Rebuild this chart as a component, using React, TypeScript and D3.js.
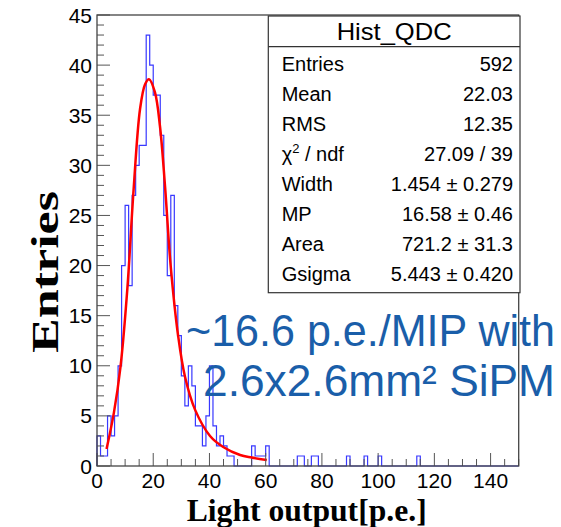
import React from "react";
import * as d3 from "d3";

// ---- data ----
const binWidth = 1.25;
const counts: number[] = [
  3, 1, 1, 5, 3, 5, 10, 20, 26, 18,
  27, 30, 32, 32, 43, 40, 37, 37, 33, 25,
  19, 27, 16, 13, 9, 6, 10, 8, 4, 4,
  2, 5, 10, 4, 2, 3, 2, 1, 1, 0,
  0, 0, 0, 0, 2, 1, 1, 1, 2, 0,
  0, 0, 0, 0, 0, 0, 0, 1, 1, 0,
  0, 1, 1, 0, 0, 0, 0, 0, 0, 0,
  0, 1, 0, 0, 0, 0, 1, 0, 0, 0,
  1, 0, 0, 0, 0, 0, 0, 0, 0, 0,
  0, 1, 0, 0, 0, 0, 0, 0, 0, 0,
  0, 0, 0, 0, 0, 0, 0, 0, 0, 0,
  0, 0, 0, 0, 0, 0, 0, 0, 0, 0,
];
const fitX: number[] = [3.4, 6, 8.4, 10.8, 13, 15.3, 17.1, 18.5, 20.6, 22.4, 24.2, 26.2, 28.9, 31.3, 34.9, 40.2, 44.9, 50.9, 55, 60.4];
const fitY: number[] = [1.7, 5.3, 10, 17.7, 27.5, 35.6, 38.1, 38.6, 37.3, 33.9, 27.9, 20, 12.9, 8.9, 5.6, 3.0, 1.9, 1.1, 0.85, 0.6];
const xTicks: number[] = [0, 20, 40, 60, 80, 100, 120, 140];
const yTicks: number[] = [0, 5, 10, 15, 20, 25, 30, 35, 40, 45];
const statLabels: string[] = ["Entries", "Mean", "RMS", "CHI", "Width", "MP", "Area", "Gsigma"];
const statValues: string[] = ["592", "22.03", "12.35", "27.09 / 39", "1.454 \u00b1 0.279", "16.58 \u00b1 0.46", "721.2 \u00b1 31.3", "5.443 \u00b1 0.420"];
const histTitle = "Hist_QDC";
const noteLines: string[] = ["~16.6 p.e./MIP with", "2.6x2.6mm\u00b2 SiPM"];

export default function App() {
  const L = 97, R = 518.7, T = 15, B = 466;
  const x = d3.scaleLinear().domain([0, 150]).range([L, R]);
  const y = d3.scaleLinear().domain([0, 45]).range([B, T]);

  // histogram step path
  let d = `M${x(0)},${y(0)}`;
  counts.forEach((c, i) => {
    d += `V${y(c)}H${x((i + 1) * binWidth)}`;
  });
  d += `V${y(0)}`;

  const fitPts = fitX.map((v, i) => [v, fitY[i]] as [number, number]);
  const fitPath = d3
    .line<[number, number]>()
    .x((p) => x(p[0]))
    .y((p) => y(p[1]))
    .curve(d3.curveCatmullRom.alpha(0.5))(fitPts) as string;

  const xMinor = d3.range(0, 151, 5);
  const yMinor = d3.range(0, 46, 1);

  const sans = "'Liberation Sans', Arial, sans-serif";
  const serif = "'Liberation Serif', 'Times New Roman', serif";

  const boxL = 268.3, boxT = 16, boxR = 520, boxB = 292.7;

  return (
    <div style={{ position: "absolute", left: 0, top: 0 }}>
      <svg width={561} height={527} style={{ display: "block", background: "#fff" }}>
        <rect x={0} y={0} width={561} height={527} fill="#fff" />
        {/* histogram */}
        <path d={d} fill="none" stroke="#3838ff" strokeWidth={1.2} />
        {/* fit */}
        <path d={fitPath} fill="none" stroke="#ff0000" strokeWidth={2.5} />
        {/* ticks */}
        {xMinor.map((v) => (
          <line key={"xt" + v} x1={x(v)} x2={x(v)} y1={B} y2={B - (v % 20 === 0 ? 13 : 7)} stroke="#555" strokeWidth={1} />
        ))}
        {yMinor.map((v) => (
          <line key={"yt" + v} y1={y(v)} y2={y(v)} x1={L} x2={L + (v % 5 === 0 ? 13 : 7)} stroke="#555" strokeWidth={1} />
        ))}
        {/* frame */}
        <rect x={L} y={T} width={R - L} height={B - T} fill="none" stroke="#444" strokeWidth={1.3} />
        {/* tick labels */}
        {xTicks.map((v) => (
          <text key={"xl" + v} x={x(v)} y={488} textAnchor="middle" fontFamily={sans} fontSize={21} fill="#000">
            {v}
          </text>
        ))}
        {yTicks.map((v) => (
          <text key={"yl" + v} x={92} y={y(v) + 7.5} textAnchor="end" fontFamily={sans} fontSize={21} fill="#000">
            {v}
          </text>
        ))}
        {/* axis titles */}
        <text x={306.7} y={521} textAnchor="middle" fontFamily={serif} fontWeight="bold" fontSize={31} textLength={240} lengthAdjust="spacingAndGlyphs" fill="#000">
          Light output[p.e.]
        </text>
        <text
          transform={`translate(58,272) rotate(-90)`}
          textAnchor="middle"
          fontFamily={serif}
          fontWeight="bold"
          fontSize={38}
          textLength={162}
          lengthAdjust="spacingAndGlyphs"
          fill="#000"
        >
          Entries
        </text>
        {/* stats box */}
        <rect x={boxL} y={boxT} width={boxR - boxL} height={boxB - boxT} fill="#fff" stroke="#333" strokeWidth={1.2} />
        <line x1={boxL} x2={boxR} y1={46.7} y2={46.7} stroke="#333" strokeWidth={1.2} />
        <text x={(boxL + boxR) / 2} y={39.5} textAnchor="middle" fontFamily={sans} fontSize={24} textLength={115} lengthAdjust="spacingAndGlyphs" fill="#000">
          {histTitle}
        </text>
        {statLabels.map((s, i) => (
          <text key={"sl" + i} x={281.7} y={70.7 + 30 * i} fontFamily={sans} fontSize={20} fill="#000">
            {s === "CHI" ? (
              <>
                {"\u03c7"}
                <tspan fontSize={13} dy={-8}>2</tspan>
                <tspan dy={8}>{" / ndf"}</tspan>
              </>
            ) : (
              s
            )}
          </text>
        ))}
        {statValues.map((s, i) => (
          <text key={"sv" + i} x={513} y={70.7 + 30 * i} textAnchor="end" fontFamily={sans} fontSize={20} fill="#000">
            {s}
          </text>
        ))}
        {/* annotation */}
        <text x={186} y={346} fontFamily={sans} fontSize={43.5} textLength={369} lengthAdjust="spacingAndGlyphs" fill="#1a5ea9">
          {noteLines[0]}
        </text>
        <text x={203} y={396} fontFamily={sans} fontSize={43.5} textLength={352} lengthAdjust="spacingAndGlyphs" fill="#1a5ea9">
          {noteLines[1]}
        </text>
      </svg>
    </div>
  );
}
